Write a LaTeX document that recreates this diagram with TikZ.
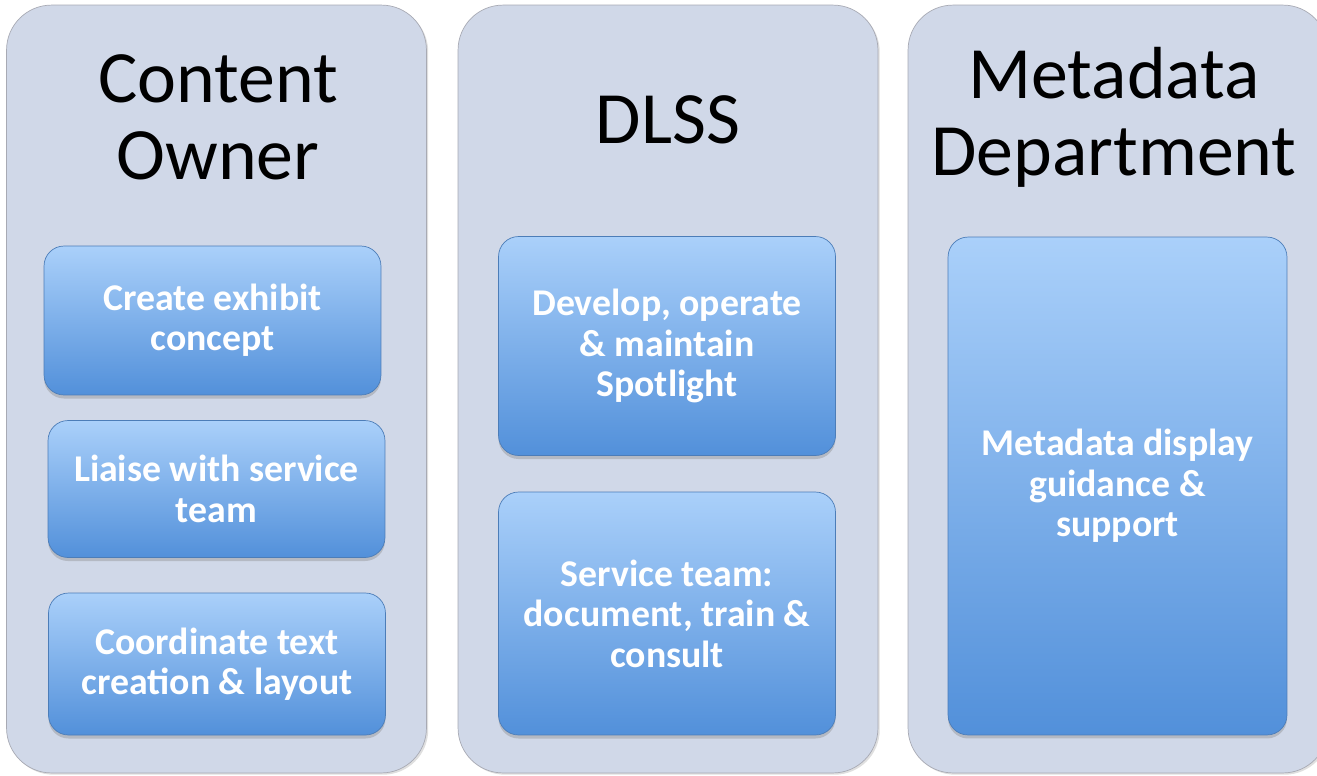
\documentclass[tikz,border=0pt]{standalone}
\usepackage{fontspec}
\setmainfont{Carlito}
\usepackage{tikz}
\usetikzlibrary{shadows}
\definecolor{panel-fill}{HTML}{D0D8E8}
\definecolor{panel-line}{HTML}{A8AAB4}
\definecolor{task-top}{HTML}{AAD0FA}
\definecolor{task-bottom}{HTML}{5290DA}
\definecolor{task-line}{HTML}{4C7DB8}

\begin{document}
\begin{tikzpicture}[x=0.02cm, y=-0.02cm,
    panel/.style={draw=panel-line, fill=panel-fill, rounded corners=0.9cm,
        minimum width=8.4cm, minimum height=15.36cm,
        drop shadow={opacity=0.25, shadow xshift=1pt, shadow yshift=-1pt}},
    heading/.style={align=center, font=\fontsize{42}{44}\selectfont},
    task/.style={draw=task-line, thin, top color=task-top, bottom color=task-bottom,
        rounded corners=0.4cm, minimum width=6.74cm, text=white, align=center,
        font=\fontsize{21.5}{23}\selectfont\bfseries,
        drop shadow={opacity=0.35, shadow xshift=0pt, shadow yshift=-2pt}}]
    \useasboundingbox (0,0) rectangle (1317,775);
    % columns
    \node[panel] (owner) at (216.5,389) {};
    \node[panel] (dlss) at (668,389) {};
    \node[panel] (meta) at (1118,389) {};
    \node[heading] (ownerhead) at (218,117) {Content\\Owner};
    \node[heading] (dlsshead) at (668,120) {DLSS};
    \node[heading] (metahead) at (1114,117) {Metadata\\Department};
    % tasks
    \node[task, minimum height=2.98cm] (concept) at (212.5,320.5) {Create exhibit\\concept};
    \node[task, minimum height=2.74cm] (liaise) at (216.5,489) {Liaise with service\\team};
    \node[task, minimum height=2.84cm] (layout) at (217,664) {Coordinate text\\creation \& layout};
    \node[task, minimum height=4.38cm] (spotlight) at (667,346) {Develop, operate\\\& maintain\\Spotlight};
    \node[task, minimum height=4.86cm] (service) at (667,613.5) {Service team:\\document, train \&\\consult};
    \node[task, minimum height=9.96cm, minimum width=6.78cm] (display) at (1117.5,486) {Metadata display\\guidance \&\\support};
\end{tikzpicture}
\end{document}
